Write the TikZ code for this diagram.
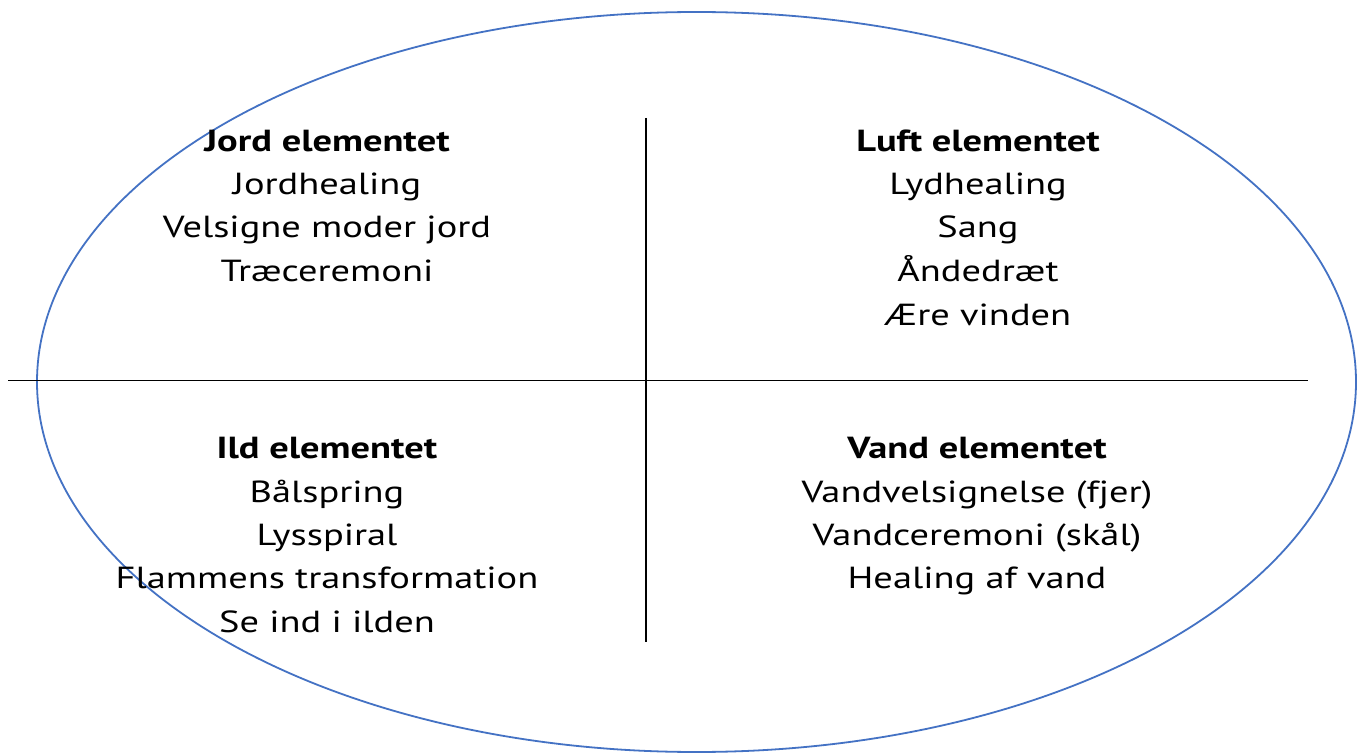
\documentclass[tikz,border=0pt]{standalone}
\usepackage{fontspec}
\setmainfont[FakeStretch=1.26]{PT Sans}
\begin{document}
\begin{tikzpicture}[x=1pt,y=-1pt,
  txt/.style={anchor=base,inner sep=0pt,font=\fontsize{30.5}{36}\selectfont},
  ttl/.style={txt,font=\fontsize{30.5}{36}\selectfont\bfseries},
  divider/.style={line width=1.6pt,black},
  oval/.style={line width=1.8pt,draw={rgb,255:red,68;green,114;blue,196}}]
\useasboundingbox (0,0) rectangle (1366,754);
\fill[white] (0,0) rectangle (1366,754);
\draw[oval] (696.5,382) ellipse [x radius=659.5pt, y radius=370pt];
\coordinate (vt) at (646,118);
\coordinate (vb) at (646,642);
\coordinate (hl) at (8,380.5);
\coordinate (hr) at (1308,380.5);
\draw[divider] (vt) -- (vb);
\draw[divider] (hl) -- (hr);
% top left
\node[ttl] (j0) at (327,152) {Jord elementet};
\node[txt] (j1) at (327,195) {Jordhealing};
\node[txt] (j2) at (327,238) {Velsigne moder jord};
\node[txt] (j3) at (327,281) {Træceremoni};
% top right
\node[ttl] (l0) at (978,152) {Luft elementet};
\node[txt] (l1) at (978,195) {Lydhealing};
\node[txt] (l2) at (978,238) {Sang};
\node[txt] (l3) at (978,281) {Åndedræt};
\node[txt] (l4) at (978,325) {Ære vinden};
% bottom left
\node[ttl] (i0) at (327,458) {Ild elementet};
\node[txt] (i1) at (327,502) {Bålspring};
\node[txt] (i2) at (327,545) {Lysspiral};
\node[txt] (i3) at (327,588) {Flammens transformation};
\node[txt] (i4) at (327,632) {Se ind i ilden};
% bottom right
\node[ttl] (v0) at (977,458) {Vand elementet};
\node[txt] (v1) at (977,502) {Vandvelsignelse (fjer)};
\node[txt] (v2) at (977,545) {Vandceremoni (skål)};
\node[txt] (v3) at (977,588) {Healing af vand};
\end{tikzpicture}
\end{document}
